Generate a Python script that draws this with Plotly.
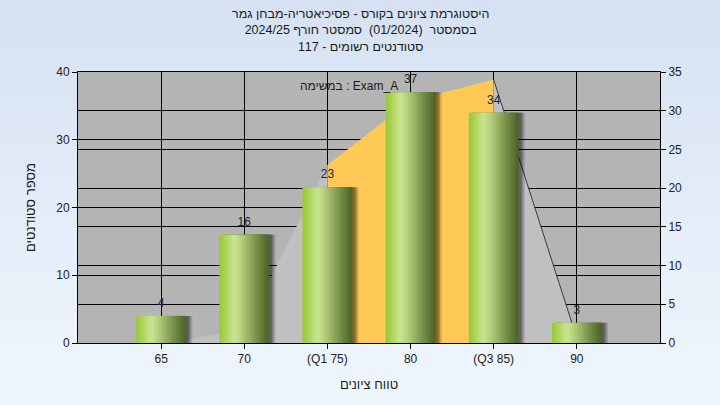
import plotly.graph_objects as go

# ---------------- data ----------------
categories = ["65", "70", "(Q1 75)", "80", "(Q3 85)", "90"]
student_counts = [4, 16, 23, 37, 34, 3]          # bars, left axis
area_values = [0, 1.6, 23, 31.3, 34, 0.6]        # background area, right axis
left_ticks = [0, 10, 20, 30, 40]
right_ticks = [0, 5, 10, 15, 20, 25, 30, 35]
title_lines = [
    "היסטוגרמת ציונים בקורס - פסיכיאטריה-מבחן גמר",
    "בסמסטר  (01/2024)  סמסטר חורף 2024/25",
    "סטודנטים רשומים - 117",
]
x_title = "טווח ציונים"
y_title = "מספר סטודנטים"
task_label = "במשימה : Exam_A"
q1_index, q3_index = 2, 4

# ---------------- styling helpers ----------------
FONT = "Liberation Sans, Arimo, Arial, DejaVu Sans, sans-serif"
W, H = 720, 405
ML, MR, MT, MB = 78, 60, 72, 62
PW, PH = W - ML - MR, H - MT - MB


def px_to_paper_y(py):
    return (H - MB - py) / PH


def px_to_paper_x(px):
    return (px - ML) / PW


def lerp(stops, t):
    for (t0, c0), (t1, c1) in zip(stops, stops[1:]):
        if t0 <= t <= t1:
            f = (t - t0) / (t1 - t0) if t1 > t0 else 0
            c = [round(a + (b - a) * f) for a, b in zip(c0, c1)]
            return "rgb(%d,%d,%d)" % tuple(c)
    return "rgb(%d,%d,%d)" % stops[-1][1]


bar_stops = [
    (0.00, (150, 198, 58)),
    (0.12, (172, 212, 85)),
    (0.30, (202, 229, 148)),
    (0.45, (180, 205, 122)),
    (0.62, (145, 170, 95)),
    (0.82, (105, 130, 62)),
    (1.00, (72, 98, 38)),
]

fig = go.Figure()

# ---------------- background area (main y = right axis) ----------------
segments = [
    (0, q1_index, "#c0c0c0", 0),
    (q1_index, q3_index, "#ffc955", 0),
    (q3_index, len(categories) - 1, "#c0c0c0", 1),
]
for a, b, col, lw in segments:
    fig.add_trace(go.Scatter(
        x=categories[a:b + 1], y=area_values[a:b + 1],
        mode="lines", fill="tozeroy", fillcolor=col,
        line=dict(color="#3a3a3a" if lw else col, width=max(lw, 0.01)),
        yaxis="y", hoverinfo="skip", showlegend=False,
    ))

# ---------------- bars (overlay y2 = left axis) ----------------
BAR_W = 0.6
for dx, alpha in [(0.075, 0.14), (0.055, 0.2), (0.035, 0.25)]:
    fig.add_trace(go.Bar(
        x=categories, y=student_counts, width=BAR_W, offset=-BAR_W / 2 + dx,
        marker=dict(color="rgba(0,0,0,%.2f)" % alpha, line=dict(width=0)),
        yaxis="y2", hoverinfo="skip", showlegend=False,
    ))

N = 20
sw = BAR_W / N
for k in range(N):
    t = (k + 0.5) / N
    w = sw * 1.4 if k < N - 1 else sw
    fig.add_trace(go.Bar(
        x=categories, y=student_counts, width=w, offset=-BAR_W / 2 + k * sw,
        marker=dict(color=lerp(bar_stops, t), line=dict(width=0)),
        yaxis="y2", hoverinfo="skip", showlegend=False,
    ))

fig.add_trace(go.Scatter(
    x=categories, y=student_counts, text=[str(v) for v in student_counts],
    mode="markers+text", textposition="top center",
    marker=dict(size=8, color="rgba(0,0,0,0)"),
    textfont=dict(family=FONT, size=12, color="#1c2030"),
    yaxis="y2", cliponaxis=False, hoverinfo="skip", showlegend=False,
))

# ---------------- background gradient + plot area ----------------
shapes = []
NB = 27
top_c, bot_c = (214, 226, 243), (240, 246, 253)
for i in range(NB):
    py0 = H * i / NB
    py1 = H * (i + 1) / NB + 1
    f = i / (NB - 1)
    c = tuple(round(a + (b - a) * f) for a, b in zip(top_c, bot_c))
    shapes.append(dict(
        type="rect", xref="paper", yref="paper", layer="below",
        x0=px_to_paper_x(0), x1=px_to_paper_x(W),
        y0=px_to_paper_y(py1), y1=px_to_paper_y(py0),
        fillcolor="rgb(%d,%d,%d)" % c, line=dict(width=0),
    ))
shapes.append(dict(
    type="rect", xref="paper", yref="paper", layer="below",
    x0=0, x1=1, y0=0, y1=1, fillcolor="#b4b4b4", line=dict(width=0),
))

axis_common = dict(
    showgrid=True, gridcolor="black", gridwidth=1,
    ticks="outside", ticklen=5, tickcolor="black",
    showline=True, linecolor="black", linewidth=1,
    zeroline=False, tickfont=dict(family=FONT, size=12, color="#222222"),
)

annotations = [
    dict(
        text="<br>".join(title_lines), xref="paper", yref="paper",
        x=px_to_paper_x(360), y=px_to_paper_y(30),
        xanchor="center", yanchor="middle", showarrow=False, align="center",
        font=dict(family=FONT, size=12.5, color="#1a1a1a"),
    ),
    dict(
        text=task_label, xref="paper", yref="paper",
        x=px_to_paper_x(400), y=px_to_paper_y(86),
        xanchor="right", yanchor="middle", showarrow=False,
        font=dict(family=FONT, size=12, color="#1a1a1a"),
    ),
]

fig.update_layout(
    width=W, height=H,
    margin=dict(l=ML, r=MR, t=MT, b=MB, autoexpand=False),
    barmode="overlay",
    plot_bgcolor="rgba(0,0,0,0)",
    paper_bgcolor="#e4edf8",
    showlegend=False,
    hovermode=False,
    font=dict(family=FONT, size=12, color="#1a1a1a"),
    shapes=shapes,
    xaxis=dict(
        type="category", range=[-1, len(categories)],
        title=dict(text=x_title, standoff=14, font=dict(family=FONT, size=13)),
        mirror=True, **axis_common,
    ),
    yaxis=dict(
        side="right", range=[0, 35], tickvals=right_ticks, **axis_common,
    ),
    yaxis2=dict(
        side="left", overlaying="y", range=[0, 40], tickvals=left_ticks,
        title=dict(text=y_title, standoff=17, font=dict(family=FONT, size=13)),
        **axis_common,
    ),
    annotations=annotations,
)

fig.write_html(
    "out.html",
    config={"displayModeBar": False},
    post_script="document.body.style.margin='0';document.body.style.overflow='hidden';",
)
